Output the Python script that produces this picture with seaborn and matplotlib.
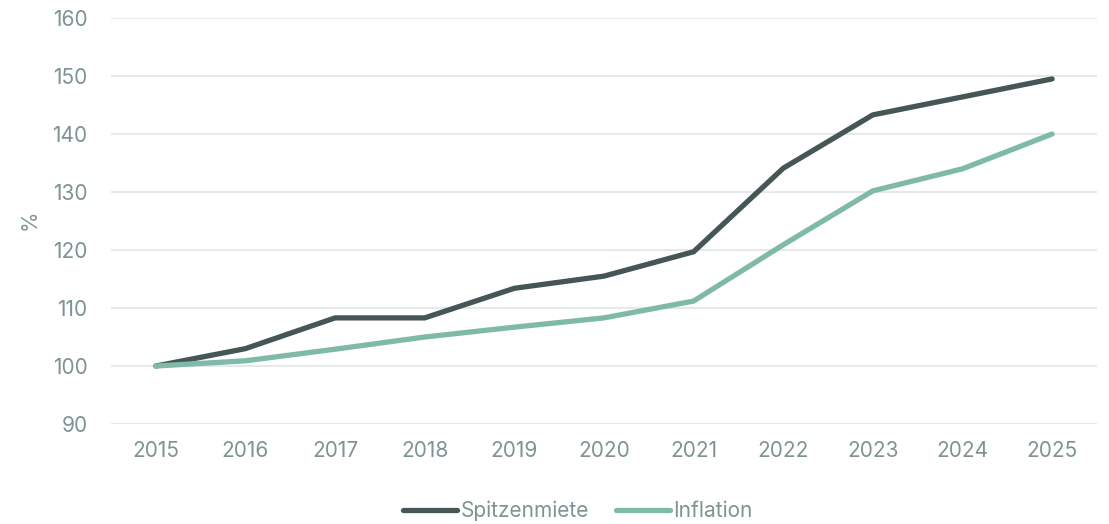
import numpy as np
import pandas as pd
import matplotlib.pyplot as plt
import seaborn as sns

years = [2015, 2016, 2017, 2018, 2019, 2020, 2021, 2022, 2023, 2024, 2025]
spitzenmiete = [100, 103.0, 108.3, 108.3, 113.4, 115.5, 119.7, 134.1, 143.3, 146.4, 149.5]
inflation = [100, 100.9, 102.9, 105.0, 106.7, 108.3, 111.2, 120.9, 130.2, 134.0, 140.0]
series_names = ["Spitzenmiete", "Inflation"]
y_ticks = [90, 100, 110, 120, 130, 140, 150, 160]

text_color = "#7f9393"
grid_color = "#e6e9e8"
palette = {"Spitzenmiete": "#465555", "Inflation": "#7fbaa8"}

sns.set_style("white")
plt.rcParams['font.family'] = ['Inter', 'DejaVu Sans']

df = pd.DataFrame({
    "Jahr": [str(y) for y in years] * 2,
    "Wert": spitzenmiete + inflation,
    "Serie": [series_names[0]] * len(years) + [series_names[1]] * len(years),
})

fig = plt.figure(figsize=(11.09, 5.24), dpi=100)
ax = fig.add_axes([0.1001, 0.1908, 0.8890, 0.7748])

sns.lineplot(data=df, x="Jahr", y="Wert", hue="Serie", palette=palette,
             linewidth=3.8, sort=False, ax=ax, legend=False,
             solid_capstyle="round", solid_joinstyle="round")

ax.set_xlim(-0.5, len(years) - 0.5)
ax.set_ylim(90, 160)
ax.set_yticks(y_ticks)
ax.yaxis.grid(True, color=grid_color, linewidth=1.5)
ax.set_axisbelow(True)
for s in ax.spines.values():
    s.set_visible(False)
ax.tick_params(axis="both", length=0, labelsize=15, labelcolor=text_color)
ax.tick_params(axis="y", pad=17)
ax.tick_params(axis="x", pad=12)
ax.set_xlabel("")
ax.set_ylabel("")
fig.text(0.027, 0.58, "%", rotation=90, ha="center", va="center",
         fontsize=15, color=text_color)

handles = [plt.Line2D([0], [0], color=palette[n], linewidth=3.8, solid_capstyle="round")
           for n in series_names]
fig.legend(handles, series_names, loc="lower center", bbox_to_anchor=(0.521, -0.03),
           ncol=2, frameon=False, fontsize=15, labelcolor=text_color,
           handlelength=2.6, handletextpad=0.15, columnspacing=1.3)

fig.savefig("out.png", dpi=100)
